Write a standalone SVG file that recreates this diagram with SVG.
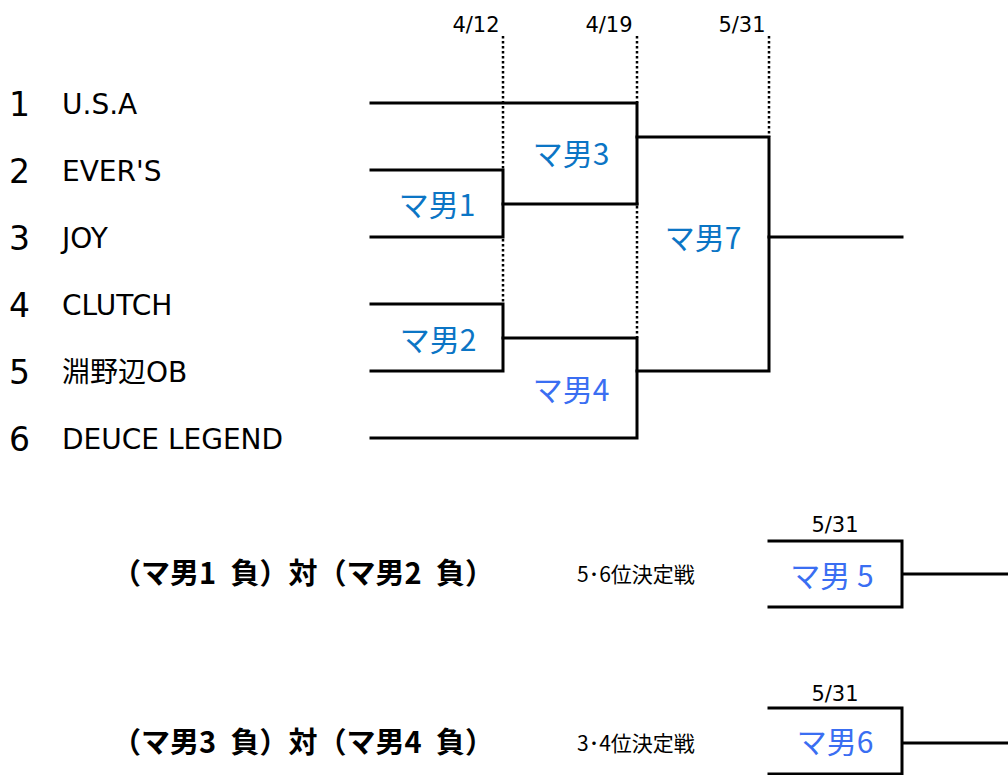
<svg xmlns="http://www.w3.org/2000/svg" width="1008" height="775" viewBox="0 0 1008 775">
<style>
.ln{fill:none;stroke:#000;stroke-width:3;stroke-linecap:square}
.dot{fill:none;stroke:#000;stroke-width:2.5;stroke-dasharray:2.5 2.5}
.num{font-family:"DejaVu Sans","Noto Sans CJK JP",sans-serif;font-size:33px;fill:#000}
.team{font-family:"DejaVu Sans","Noto Sans CJK JP",sans-serif;font-size:28px;fill:#000}
.date{font-family:"DejaVu Sans","Noto Sans CJK JP",sans-serif;font-size:21px;fill:#000;text-anchor:middle}
.m1{font-family:"Noto Sans CJK JP",sans-serif;font-size:30px;fill:#0B75C5;text-anchor:middle}
.m2{font-family:"Noto Sans CJK JP",sans-serif;font-size:30px;fill:#3A6EF2;text-anchor:middle}
.vs{font-family:"Noto Sans CJK JP",sans-serif;font-size:29px;font-weight:bold;fill:#000;text-anchor:middle}
.pl{font-family:"Noto Sans CJK JP",sans-serif;font-size:21px;fill:#000}
</style>
<rect width="1008" height="775" fill="#fff"/>
<g id="dates">
<text class="date" x="476" y="32">4/12</text>
<text class="date" x="609" y="32">4/19</text>
<text class="date" x="742" y="32">5/31</text>
</g>
<g id="guides">
<path class="dot" d="M503,36V170M503,239V304M637,36V103M637,206V338M769,36V137"/>
</g>
<g id="teams">
<g id="team1"><text class="num" x="9" y="116">1</text><text class="team" x="62" y="114">U.S.A</text></g>
<g id="team2"><text class="num" x="9" y="183">2</text><text class="team" x="62" y="181">EVER'S</text></g>
<g id="team3"><text class="num" x="9" y="250">3</text><text class="team" x="62" y="248">JOY</text></g>
<g id="team4"><text class="num" x="9" y="317">4</text><text class="team" x="62" y="315">CLUTCH</text></g>
<g id="team5"><text class="num" x="9" y="384">5</text><text class="team" x="62" y="382">淵野辺OB</text></g>
<g id="team6"><text class="num" x="9" y="451">6</text><text class="team" x="62" y="449">DEUCE LEGEND</text></g>
</g>
<g id="connectors">
<path class="ln" d="M371,103H637V204"/>
<path class="ln" d="M371,170H503V237H371"/>
<path class="ln" d="M503,204H637"/>
<path class="ln" d="M637,137H769V371H637"/>
<path class="ln" d="M371,304H503V371H371"/>
<path class="ln" d="M503,338H637V438H371"/>
<path class="ln" d="M769,237H902"/>
<path class="ln" d="M769,541H902V607H769M902,574H1008"/>
<path class="ln" d="M769,708H902V774H769M902,743H1008"/>
</g>
<g id="matches">
<g id="m1"><text class="m1" x="437" y="216">マ男1</text></g>
<g id="m2"><text class="m1" x="438" y="351">マ男2</text></g>
<g id="m3"><text class="m1" x="571" y="165">マ男3</text></g>
<g id="m4"><text class="m2" x="571" y="401">マ男4</text></g>
<g id="m7"><text class="m1" x="703" y="249">マ男7</text></g>
<g id="m5"><text class="date" x="835" y="532">5/31</text><text class="m2" x="832" y="587">マ男 5</text></g>
<g id="m6"><text class="date" x="835" y="701">5/31</text><text class="m2" x="835" y="753">マ男6</text></g>
</g>
<g id="placements">
<text class="vs" x="303" y="584">（マ男1&#8194;負）対（マ男2&#8194;負）</text>
<text class="pl" x="577" y="582">5･6位決定戦</text>
<text class="vs" x="303" y="753">（マ男3&#8194;負）対（マ男4&#8194;負）</text>
<text class="pl" x="577" y="751">3･4位決定戦</text>
</g>
</svg>
